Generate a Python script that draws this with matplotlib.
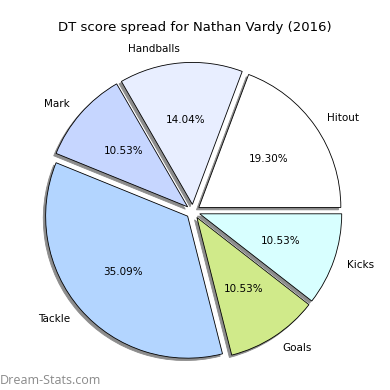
import matplotlib
matplotlib.use('Agg')
import matplotlib.pyplot as plt

# DT score spread
labels = ['Hitout', 'Handballs', 'Mark', 'Tackle', 'Goals', 'Kicks']
values = [11, 8, 6, 20, 6, 6]
colors = ['#ffffff', '#e8eeff', '#c6d6ff', '#b3d5ff', '#d0ea8a', '#d8ffff']
explode = [0.05] * len(values)

fig = plt.figure(figsize=(3.9, 3.9), dpi=100)
ax = fig.add_axes([0, 0, 1, 1])

wedges, texts, autotexts = ax.pie(values, labels=labels, colors=colors, explode=explode,
                                  autopct='%1.2f%%', startangle=0,
                                  shadow={'ox': -0.012, 'oy': -0.012, 'facecolor': '#8c8c8c',
                                          'edgecolor': '#8c8c8c', 'alpha': 1},
                                  wedgeprops={'edgecolor': 'black', 'linewidth': 0.6})
for t in texts + autotexts:
    t.set_fontsize(7.5)

# pie radius ~142px, centre at (193, 211.5) px from top-left
px = 142.0
ax.set_xlim(-193 / px, 197 / px)
ax.set_ylim(-178.5 / px, 211.5 / px)
ax.set_aspect('equal')
ax.axis('off')

fig.text(0.5, 0.92, 'DT score spread for Nathan Vardy (2016)', ha='center', fontsize=9.5)
fig.text(0.0, 0.015, 'Dream-Stats.com', color='#8a8a8a', fontsize=9, family='Open Sans')

fig.savefig('out.png', dpi=100)
